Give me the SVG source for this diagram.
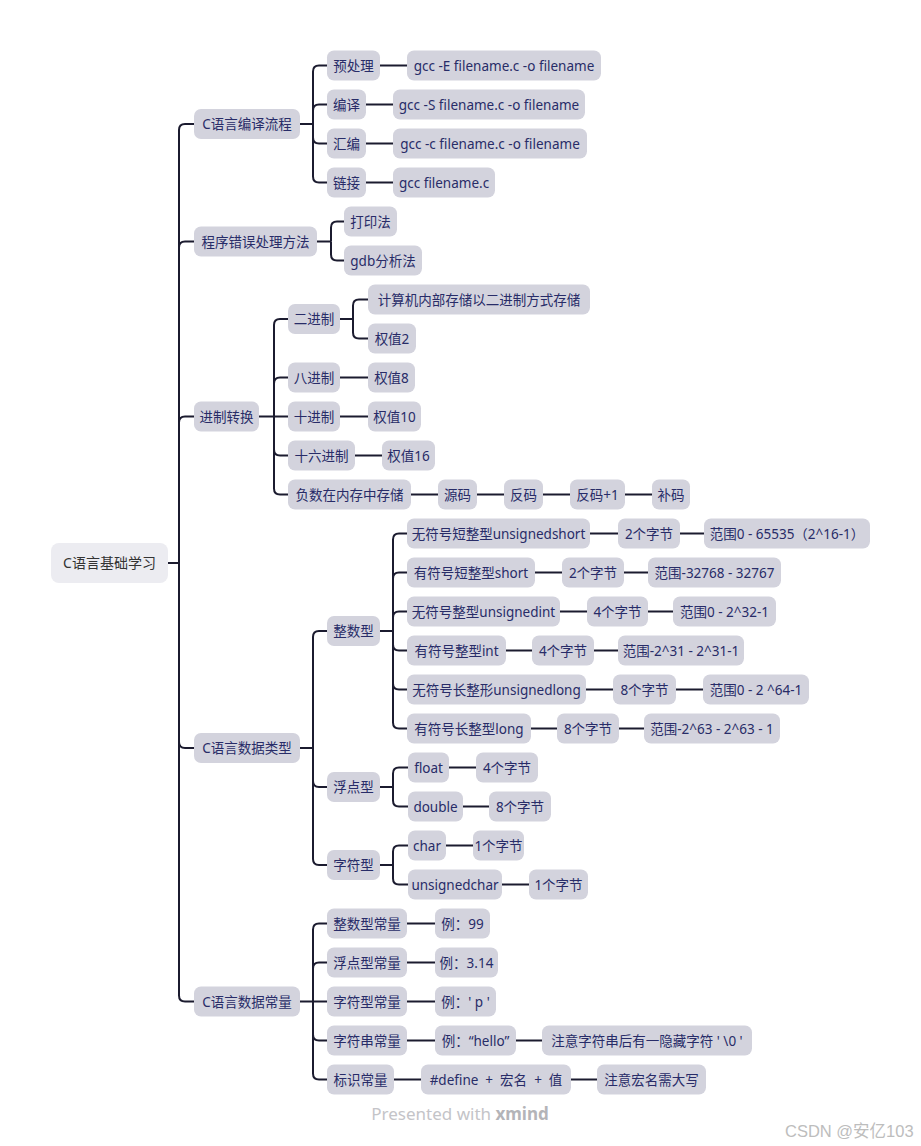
<svg xmlns="http://www.w3.org/2000/svg" width="921" height="1146" viewBox="0 0 921 1146">
<style>
.bg{fill:#ffffff}
.n rect{fill:#d3d3dd}
.n text{font-family:"Noto Sans","Noto Sans CJK SC",sans-serif;font-size:13.5px;fill:#282c68;text-anchor:middle}
.root rect{fill:#ececf1}
.root text{font-family:"Noto Sans","Noto Sans CJK SC",sans-serif;font-size:14px;fill:#333333;text-anchor:middle}
.c path{fill:none;stroke:#1b1b2f;stroke-width:2}
.wm{font-family:"Noto Sans",sans-serif;font-size:17px;fill:#c4c4c8;text-anchor:middle}
.cs{font-family:"Liberation Sans","Noto Sans CJK SC",sans-serif;font-size:16.5px;fill:#bdbdbd}
</style>
<rect class="bg" x="0" y="0" width="921" height="1146"/>
<g class="c" id="connectors">
<path d="M168 563 H179"/>
<path d="M179 563 V130 Q179 124 185 124 H194"/>
<path d="M179 563 V247.5 Q179 241.5 185 241.5 H194"/>
<path d="M179 563 V422.5 Q179 416.5 185 416.5 H194"/>
<path d="M179 563 V742 Q179 748 185 748 H194"/>
<path d="M179 563 V995.5 Q179 1001.5 185 1001.5 H194"/>
<path d="M300 124 H313"/>
<path d="M313 124 V71.5 Q313 65.5 319 65.5 H327"/>
<path d="M313 124 V110.5 Q313 104.5 319 104.5 H327"/>
<path d="M313 124 V137.5 Q313 143.5 319 143.5 H327"/>
<path d="M313 124 V176.5 Q313 182.5 319 182.5 H327"/>
<path d="M380 65.5 H407"/><path d="M366 104.5 H393"/><path d="M366 143.5 H393"/><path d="M366 182.5 H393"/>
<path d="M317 241.5 H331"/>
<path d="M331 241.5 V227.5 Q331 221.5 337 221.5 H344"/>
<path d="M331 241.5 V254.5 Q331 260.5 337 260.5 H344"/>
<path d="M259 416.5 H274"/>
<path d="M274 416.5 V325 Q274 319 280 319 H288"/>
<path d="M274 416.5 V383.5 Q274 377.5 280 377.5 H288"/>
<path d="M274 416.5 H288"/>
<path d="M274 416.5 V449.5 Q274 455.5 280 455.5 H288"/>
<path d="M274 416.5 V488.5 Q274 494.5 280 494.5 H288"/>
<path d="M340 319 H353"/>
<path d="M353 319 V305.5 Q353 299.5 359 299.5 H368"/>
<path d="M353 319 V332.5 Q353 338.5 359 338.5 H368"/>
<path d="M340 377.5 H368"/><path d="M340 416.5 H368"/><path d="M355 455.5 H382"/>
<path d="M411 494.5 H438"/><path d="M477 494.5 H504"/><path d="M543 494.5 H570"/><path d="M625 494.5 H652"/>
<path d="M300 748 H313"/>
<path d="M313 748 V637 Q313 631 319 631 H327"/>
<path d="M313 748 V781 Q313 787 319 787 H327"/>
<path d="M313 748 V859 Q313 865 319 865 H327"/>
<path d="M380 631 H393"/>
<path d="M393 631 V539.5 Q393 533.5 399 533.5 H407"/>
<path d="M393 631 V578.5 Q393 572.5 399 572.5 H407"/>
<path d="M393 631 V617.5 Q393 611.5 399 611.5 H407"/>
<path d="M393 631 V644.5 Q393 650.5 399 650.5 H407"/>
<path d="M393 631 V683.5 Q393 689.5 399 689.5 H407"/>
<path d="M393 631 V722.5 Q393 728.5 399 728.5 H407"/>
<path d="M590 533.5 H618"/><path d="M680 533.5 H704"/>
<path d="M535 572.5 H562"/><path d="M624 572.5 H648"/>
<path d="M560 611.5 H587"/><path d="M648 611.5 H673"/>
<path d="M506 650.5 H532"/><path d="M594 650.5 H618"/>
<path d="M586 689.5 H613"/><path d="M676 689.5 H703"/>
<path d="M531 728.5 H557"/><path d="M619 728.5 H644"/>
<path d="M380 787 H393"/>
<path d="M393 787 V773.5 Q393 767.5 399 767.5 H408"/>
<path d="M393 787 V800.5 Q393 806.5 399 806.5 H408"/>
<path d="M449 767.5 H476"/><path d="M463 806.5 H489"/>
<path d="M380 865 H393"/>
<path d="M393 865 V851.5 Q393 845.5 399 845.5 H408"/>
<path d="M393 865 V878.5 Q393 884.5 399 884.5 H408"/>
<path d="M446 845.5 H473"/><path d="M502 884.5 H529"/>
<path d="M300 1001.5 H313"/>
<path d="M313 1001.5 V929.5 Q313 923.5 319 923.5 H327"/>
<path d="M313 1001.5 V968.5 Q313 962.5 319 962.5 H327"/>
<path d="M313 1001.5 H327"/>
<path d="M313 1001.5 V1034.5 Q313 1040.5 319 1040.5 H327"/>
<path d="M313 1001.5 V1073.5 Q313 1079.5 319 1079.5 H327"/>
<path d="M407 923.5 H435"/><path d="M407 962.5 H435"/><path d="M407 1001.5 H435"/><path d="M407 1040.5 H435"/><path d="M516 1040.5 H542"/>
<path d="M394 1079.5 H421"/><path d="M571 1079.5 H597"/>
</g>
<g class="root" id="root"><rect x="51" y="543" width="117" height="40" rx="8"/><text x="109.5" y="568">C语言基础学习</text></g>
<g class="n" id="n-compile"><rect x="194" y="109" width="106" height="30" rx="7"/><text x="247" y="129">C语言编译流程</text></g>
<g class="n" id="n-error"><rect x="194" y="226.5" width="123" height="30" rx="7"/><text x="255.5" y="246.5">程序错误处理方法</text></g>
<g class="n" id="n-base"><rect x="194" y="401.5" width="65" height="30" rx="7"/><text x="226.5" y="421.5">进制转换</text></g>
<g class="n" id="n-types"><rect x="194" y="733" width="106" height="30" rx="7"/><text x="247" y="753">C语言数据类型</text></g>
<g class="n" id="n-const"><rect x="194" y="986.5" width="106" height="30" rx="7"/><text x="247" y="1006.5">C语言数据常量</text></g>
<g class="n" id="n-pre"><rect x="327" y="50.5" width="53" height="30" rx="7"/><text x="353.5" y="70.5">预处理</text></g>
<g class="n" id="n-pre-l"><rect x="407" y="50.5" width="194" height="30" rx="7"/><text x="504" y="70.5">gcc -E filename.c -o filename</text></g>
<g class="n" id="n-cmp"><rect x="327" y="89.5" width="39" height="30" rx="7"/><text x="346.5" y="109.5">编译</text></g>
<g class="n" id="n-cmp-l"><rect x="393" y="89.5" width="192" height="30" rx="7"/><text x="489" y="109.5">gcc -S filename.c -o filename</text></g>
<g class="n" id="n-asm"><rect x="327" y="128.5" width="39" height="30" rx="7"/><text x="346.5" y="148.5">汇编</text></g>
<g class="n" id="n-asm-l"><rect x="393" y="128.5" width="194" height="30" rx="7"/><text x="490" y="148.5">gcc -c filename.c -o filename</text></g>
<g class="n" id="n-link"><rect x="327" y="167.5" width="39" height="30" rx="7"/><text x="346.5" y="187.5">链接</text></g>
<g class="n" id="n-link-l"><rect x="393" y="167.5" width="102" height="30" rx="7"/><text x="444" y="187.5">gcc filename.c</text></g>
<g class="n" id="n-print"><rect x="344" y="206.5" width="53" height="30" rx="7"/><text x="370.5" y="226.5">打印法</text></g>
<g class="n" id="n-gdb"><rect x="344" y="245.5" width="78" height="30" rx="7"/><text x="383" y="265.5">gdb分析法</text></g>
<g class="n" id="n-bin"><rect x="288" y="304" width="52" height="30" rx="7"/><text x="314" y="324">二进制</text></g>
<g class="n" id="n-bin-a"><rect x="368" y="284.5" width="222" height="30" rx="7"/><text x="479" y="304.5">计算机内部存储以二进制方式存储</text></g>
<g class="n" id="n-bin-b"><rect x="368" y="323.5" width="48" height="30" rx="7"/><text x="392" y="343.5">权值2</text></g>
<g class="n" id="n-oct"><rect x="288" y="362.5" width="52" height="30" rx="7"/><text x="314" y="382.5">八进制</text></g>
<g class="n" id="n-oct-l"><rect x="368" y="362.5" width="47" height="30" rx="7"/><text x="391.5" y="382.5">权值8</text></g>
<g class="n" id="n-dec"><rect x="288" y="401.5" width="52" height="30" rx="7"/><text x="314" y="421.5">十进制</text></g>
<g class="n" id="n-dec-l"><rect x="368" y="401.5" width="53" height="30" rx="7"/><text x="394.5" y="421.5">权值10</text></g>
<g class="n" id="n-hex"><rect x="288" y="440.5" width="67" height="30" rx="7"/><text x="321.5" y="460.5">十六进制</text></g>
<g class="n" id="n-hex-l"><rect x="382" y="440.5" width="53" height="30" rx="7"/><text x="408.5" y="460.5">权值16</text></g>
<g class="n" id="n-neg"><rect x="288" y="479.5" width="123" height="30" rx="7"/><text x="349.5" y="499.5">负数在内存中存储</text></g>
<g class="n" id="n-neg-1"><rect x="438" y="479.5" width="39" height="30" rx="7"/><text x="457.5" y="499.5">源码</text></g>
<g class="n" id="n-neg-2"><rect x="504" y="479.5" width="39" height="30" rx="7"/><text x="523.5" y="499.5">反码</text></g>
<g class="n" id="n-neg-3"><rect x="570" y="479.5" width="55" height="30" rx="7"/><text x="597.5" y="499.5">反码+1</text></g>
<g class="n" id="n-neg-4"><rect x="652" y="479.5" width="38" height="30" rx="7"/><text x="671" y="499.5">补码</text></g>
<g class="n" id="n-int"><rect x="327" y="616" width="53" height="30" rx="7"/><text x="353.5" y="636">整数型</text></g>
<g class="n" id="n-us"><rect x="407" y="518.5" width="183" height="30" rx="7"/><text x="498.5" y="538.5">无符号短整型unsignedshort</text></g>
<g class="n" id="n-us-b"><rect x="618" y="518.5" width="62" height="30" rx="7"/><text x="649" y="538.5">2个字节</text></g>
<g class="n" id="n-us-r"><rect x="704" y="518.5" width="166" height="30" rx="7"/><text x="787" y="538.5">范围0 - 65535（2^16-1）</text></g>
<g class="n" id="n-s"><rect x="407" y="557.5" width="128" height="30" rx="7"/><text x="471" y="577.5">有符号短整型short</text></g>
<g class="n" id="n-s-b"><rect x="562" y="557.5" width="62" height="30" rx="7"/><text x="593" y="577.5">2个字节</text></g>
<g class="n" id="n-s-r"><rect x="648" y="557.5" width="133" height="30" rx="7"/><text x="714.5" y="577.5">范围-32768 - 32767</text></g>
<g class="n" id="n-ui"><rect x="407" y="596.5" width="153" height="30" rx="7"/><text x="483.5" y="616.5">无符号整型unsignedint</text></g>
<g class="n" id="n-ui-b"><rect x="587" y="596.5" width="61" height="30" rx="7"/><text x="617.5" y="616.5">4个字节</text></g>
<g class="n" id="n-ui-r"><rect x="673" y="596.5" width="103" height="30" rx="7"/><text x="724.5" y="616.5">范围0 - 2^32-1</text></g>
<g class="n" id="n-i"><rect x="407" y="635.5" width="99" height="30" rx="7"/><text x="456.5" y="655.5">有符号整型int</text></g>
<g class="n" id="n-i-b"><rect x="532" y="635.5" width="62" height="30" rx="7"/><text x="563" y="655.5">4个字节</text></g>
<g class="n" id="n-i-r"><rect x="618" y="635.5" width="126" height="30" rx="7"/><text x="681" y="655.5">范围-2^31 - 2^31-1</text></g>
<g class="n" id="n-ul"><rect x="407" y="674.5" width="179" height="30" rx="7"/><text x="496.5" y="694.5">无符号长整形unsignedlong</text></g>
<g class="n" id="n-ul-b"><rect x="613" y="674.5" width="63" height="30" rx="7"/><text x="644.5" y="694.5">8个字节</text></g>
<g class="n" id="n-ul-r"><rect x="703" y="674.5" width="106" height="30" rx="7"/><text x="756" y="694.5">范围0 - 2 ^64-1</text></g>
<g class="n" id="n-l"><rect x="407" y="713.5" width="124" height="30" rx="7"/><text x="469" y="733.5">有符号长整型long</text></g>
<g class="n" id="n-l-b"><rect x="557" y="713.5" width="62" height="30" rx="7"/><text x="588" y="733.5">8个字节</text></g>
<g class="n" id="n-l-r"><rect x="644" y="713.5" width="136" height="30" rx="7"/><text x="712" y="733.5">范围-2^63 - 2^63 - 1</text></g>
<g class="n" id="n-float"><rect x="327" y="772" width="53" height="30" rx="7"/><text x="353.5" y="792">浮点型</text></g>
<g class="n" id="n-f"><rect x="408" y="752.5" width="41" height="30" rx="7"/><text x="428.5" y="772.5">float</text></g>
<g class="n" id="n-f-b"><rect x="476" y="752.5" width="62" height="30" rx="7"/><text x="507" y="772.5">4个字节</text></g>
<g class="n" id="n-d"><rect x="408" y="791.5" width="55" height="30" rx="7"/><text x="435.5" y="811.5">double</text></g>
<g class="n" id="n-d-b"><rect x="489" y="791.5" width="62" height="30" rx="7"/><text x="520" y="811.5">8个字节</text></g>
<g class="n" id="n-char"><rect x="327" y="850" width="53" height="30" rx="7"/><text x="353.5" y="870">字符型</text></g>
<g class="n" id="n-c"><rect x="408" y="830.5" width="38" height="30" rx="7"/><text x="427" y="850.5">char</text></g>
<g class="n" id="n-c-b"><rect x="473" y="830.5" width="51" height="30" rx="7"/><text x="498.5" y="850.5">1个字节</text></g>
<g class="n" id="n-uc"><rect x="408" y="869.5" width="94" height="30" rx="7"/><text x="455" y="889.5">unsignedchar</text></g>
<g class="n" id="n-uc-b"><rect x="529" y="869.5" width="59" height="30" rx="7"/><text x="558.5" y="889.5">1个字节</text></g>
<g class="n" id="n-ci"><rect x="327" y="908.5" width="80" height="30" rx="7"/><text x="367" y="928.5">整数型常量</text></g>
<g class="n" id="n-ci-e"><rect x="435" y="908.5" width="55" height="30" rx="7"/><text x="462.5" y="928.5">例：99</text></g>
<g class="n" id="n-cf"><rect x="327" y="947.5" width="80" height="30" rx="7"/><text x="367" y="967.5">浮点型常量</text></g>
<g class="n" id="n-cf-e"><rect x="435" y="947.5" width="63" height="30" rx="7"/><text x="466.5" y="967.5">例：3.14</text></g>
<g class="n" id="n-cc"><rect x="327" y="986.5" width="80" height="30" rx="7"/><text x="367" y="1006.5">字符型常量</text></g>
<g class="n" id="n-cc-e"><rect x="435" y="986.5" width="61" height="30" rx="7"/><text x="465.5" y="1006.5">例：' p '</text></g>
<g class="n" id="n-cs"><rect x="327" y="1025.5" width="80" height="30" rx="7"/><text x="367" y="1045.5">字符串常量</text></g>
<g class="n" id="n-cs-e"><rect x="435" y="1025.5" width="81" height="30" rx="7"/><text x="475.5" y="1045.5">例：“hello”</text></g>
<g class="n" id="n-cs-n"><rect x="542" y="1025.5" width="210" height="30" rx="7"/><text x="647" y="1045.5">注意字符串后有一隐藏字符 ' \0 '</text></g>
<g class="n" id="n-cid"><rect x="327" y="1064.5" width="67" height="30" rx="7"/><text x="360.5" y="1084.5">标识常量</text></g>
<g class="n" id="n-cid-d"><rect x="421" y="1064.5" width="150" height="30" rx="7"/><text x="496" y="1084.5" xml:space="preserve">#define  +  宏名  +  值</text></g>
<g class="n" id="n-cid-n"><rect x="597" y="1064.5" width="109" height="30" rx="7"/><text x="651.5" y="1084.5">注意宏名需大写</text></g>
<text class="wm" x="460" y="1120">Presented with <tspan font-weight="bold" fill="#b4b4b8">xmind</tspan></text>
<text class="cs" x="785" y="1137">CSDN @安亿103</text>
</svg>
